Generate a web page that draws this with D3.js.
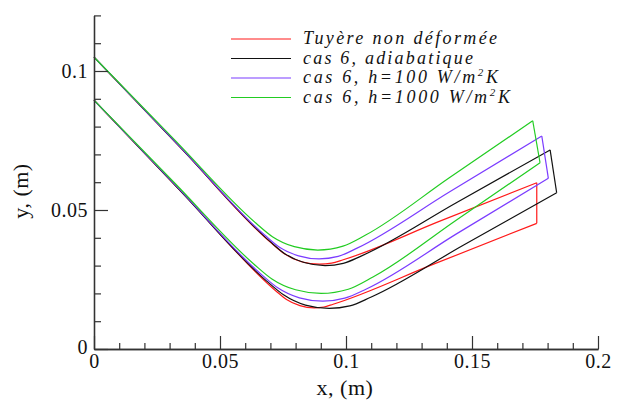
<!DOCTYPE html>
<html>
<head>
<meta charset="utf-8">
<script src="https://cdn.jsdelivr.net/npm/d3@7/dist/d3.min.js"></script>
<style>
  html, body { margin: 0; padding: 0; background: #fff; }
  svg { display: block; }
  svg text { font-family: "Liberation Serif", "Times New Roman", Times, serif; }
</style>
</head>
<body>
<svg id="chart" width="623" height="403"></svg>
<script>
// ---------------- DATA ----------------
// Undeformed nozzle (red)
const redUpper = [[0,0.105],[0.035,0.0718],[0.0704,0.0381],[0.0757,0.0342],[0.0823,0.0314],[0.0895,0.0305],[0.0943,0.0309],[0.0989,0.0321],[0.137,0.0459],[0.1757,0.0598]];
const redLower = [[0,0.0895],[0.036,0.0553],[0.0723,0.0208],[0.0764,0.0178],[0.0817,0.0156],[0.0874,0.0148],[0.0912,0.0151],[0.0949,0.0161],[0.135,0.0306],[0.1757,0.0452]];
// cas 6, adiabatique (black)
const blackUpper = [[0,0.105],[0.035,0.0718],[0.0697,0.0388],[0.0757,0.0343],[0.0834,0.0311],[0.0917,0.0300],[0.0989,0.0308],[0.1062,0.0335],[0.1436,0.0525],[0.1810,0.0716]];
const blackLower = [[0,0.0895],[0.034,0.0572],[0.0683,0.0246],[0.0752,0.0195],[0.0839,0.0158],[0.0933,0.0146],[0.1015,0.0155],[0.1098,0.0186],[0.1467,0.0374],[0.1836,0.0562]];
// cas 6, h=100 (purple)
const purpleUpper = [[0,0.105],[0.034,0.0729],[0.0677,0.0410],[0.0736,0.0366],[0.0812,0.0335],[0.0893,0.0324],[0.0969,0.0333],[0.1044,0.0363],[0.141,0.0565],[0.1777,0.0766]];
const purpleLower = [[0,0.0895],[0.033,0.0583],[0.0662,0.0270],[0.0729,0.0220],[0.0815,0.0184],[0.0908,0.0172],[0.0995,0.0183],[0.1081,0.0216],[0.144,0.0415],[0.1803,0.0614]];
// cas 6, h=1000 (green)
const greenUpper = [[0,0.105],[0.032,0.0752],[0.0642,0.0453],[0.0708,0.0404],[0.0795,0.0368],[0.0888,0.0356],[0.0988,0.0370],[0.1078,0.0410],[0.141,0.0616],[0.1741,0.0821]];
const greenLower = [[0,0.0895],[0.032,0.0597],[0.0635,0.0305],[0.0706,0.0252],[0.0800,0.0213],[0.0901,0.0200],[0.1009,0.0215],[0.1107,0.0259],[0.144,0.0465],[0.1770,0.0670]];

const seriesNames = ["Tuyère non déformée", "cas 6, adiabatique", "cas 6, h=100 W/m²K", "cas 6, h=1000 W/m²K"];
const seriesColors = ["#ff1a1a", "#111111", "#7b3cff", "#22cc22"];
const seriesUpper = [redUpper, blackUpper, purpleUpper, greenUpper];
const seriesLower = [redLower, blackLower, purpleLower, greenLower];

const xMajorTicks = [0, 0.05, 0.1, 0.15, 0.2];
const xMajorLabels = ["0", "0.05", "0.1", "0.15", "0.2"];
const xMinorTicks = [0.01,0.02,0.03,0.04,0.06,0.07,0.08,0.09,0.11,0.12,0.13,0.14,0.16,0.17,0.18,0.19];
const yMajorTicks = [0, 0.05, 0.1];
const yMajorLabels = ["0", "0.05", "0.1"];
const yMinorTicks = [0.01,0.02,0.03,0.04,0.06,0.07,0.08,0.09,0.11,0.12];
const xTitle = "x, (m)";
const yTitle = "y, (m)";

// ---------------- LAYOUT ----------------
const svg = d3.select("#chart");
const x = d3.scaleLinear().domain([0, 0.2]).range([94, 598]);
const y = d3.scaleLinear().domain([0, 0.12]).range([349, 15.4]);
const axisColor = "#333";

// curves
const line = d3.line().x(d => x(d[0])).y(d => y(d[1])).curve(d3.curveMonotoneX);
const edge = d3.line().x(d => x(d[0])).y(d => y(d[1]));
const gCurves = svg.append("g");
seriesUpper.forEach((up, i) => {
  const lo = seriesLower[i];
  gCurves.append("path").attr("d", line(up)).attr("fill", "none")
    .attr("stroke", seriesColors[i]).attr("stroke-width", 1.2);
  gCurves.append("path").attr("d", line(lo)).attr("fill", "none")
    .attr("stroke", seriesColors[i]).attr("stroke-width", 1.2);
  gCurves.append("path").attr("d", edge([up[up.length - 1], lo[lo.length - 1]])).attr("fill", "none")
    .attr("stroke", seriesColors[i]).attr("stroke-width", 1.2);
});

// axes
function styleAxis(g) {
  g.attr("font-family", null).attr("font-size", null);
  g.selectAll("path.domain").attr("stroke", axisColor).attr("stroke-width", 1.3);
  g.selectAll(".tick line").attr("stroke", axisColor).attr("stroke-width", 1.2);
  g.selectAll("text").attr("font-size", 20).attr("fill", "#111").attr("letter-spacing", 0.5);
}
const gxMinor = svg.append("g").attr("transform", "translate(0,349)")
  .call(d3.axisBottom(x).tickValues(xMinorTicks).tickSize(-6).tickSizeOuter(0).tickFormat(""));
styleAxis(gxMinor);
const gxMajor = svg.append("g").attr("transform", "translate(0,349)")
  .call(d3.axisBottom(x).tickValues(xMajorTicks).tickSizeInner(-13).tickSizeOuter(0).tickPadding(5)
    .tickFormat((d, i) => xMajorLabels[i]));
styleAxis(gxMajor);
const gyMinor = svg.append("g").attr("transform", "translate(94,0)")
  .call(d3.axisLeft(y).tickValues(yMinorTicks).tickSize(-7).tickSizeOuter(0).tickFormat(""));
styleAxis(gyMinor);
const gyMajor = svg.append("g").attr("transform", "translate(94,0)")
  .call(d3.axisLeft(y).tickValues(yMajorTicks).tickSizeInner(-14).tickSizeOuter(0).tickPadding(6)
    .tickFormat((d, i) => yMajorLabels[i]));
styleAxis(gyMajor);
gyMajor.selectAll(".tick text").filter(d => d === 0).attr("dy", "0.2em");

// axis titles
svg.append("text").attr("x", 345).attr("y", 395).attr("text-anchor", "middle")
  .attr("font-size", 22).attr("letter-spacing", 0.5).attr("fill", "#111").text(xTitle);
svg.append("text").attr("transform", "translate(28,191) rotate(-90)").attr("text-anchor", "middle")
  .attr("font-size", 22).attr("letter-spacing", 0.5).attr("fill", "#111").text(yTitle);

// legend
const legendRows = [39, 58.5, 78, 97.5];
const legendWidths = [194, 170, 195, 207];
const gLeg = svg.append("g");
seriesNames.forEach((name, i) => {
  const yy = legendRows[i];
  gLeg.append("line").attr("x1", 231).attr("x2", 291).attr("y1", yy).attr("y2", yy)
    .attr("stroke", seriesColors[i]).attr("stroke-width", 1.2);
  const t = gLeg.append("text").attr("x", 303).attr("y", yy + 5)
    .attr("font-style", "italic").attr("font-size", 18).attr("fill", "#111")
    .attr("textLength", legendWidths[i]).attr("lengthAdjust", "spacing");
  const sup = name.indexOf("²");
  if (sup < 0) {
    t.text(name);
  } else {
    t.append("tspan").text(name.slice(0, sup));
    t.append("tspan").attr("dy", -7).attr("font-size", 11).text("2");
    t.append("tspan").attr("dy", 7).text(name.slice(sup + 1));
  }
});
</script>
</body>
</html>
